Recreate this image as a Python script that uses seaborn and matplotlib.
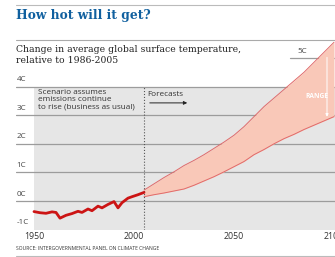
import numpy as np
import matplotlib.pyplot as plt
import seaborn as sns
from matplotlib.lines import Line2D

# observed temperature change (C, relative to 1986-2005)
obs_years = [1950, 1953, 1956, 1959, 1961, 1963, 1966, 1969, 1972, 1974,
             1977, 1979, 1982, 1984, 1987, 1990, 1992, 1994, 1997, 1999,
             2002, 2005]
obs_temp = [-0.37, -0.41, -0.43, -0.38, -0.40, -0.60, -0.50, -0.44, -0.36, -0.40,
            -0.28, -0.34, -0.18, -0.24, -0.12, -0.02, -0.24, -0.06, 0.10, 0.15,
            0.22, 0.30]

# business-as-usual forecast range
fc_years = [2005, 2010, 2015, 2020, 2025, 2030, 2035, 2040, 2045, 2050,
            2055, 2060, 2065, 2070, 2075, 2080, 2085, 2090, 2095, 2100]
fc_upper = [0.38, 0.60, 0.82, 1.02, 1.24, 1.42, 1.62, 1.84, 2.06, 2.30,
            2.60, 2.95, 3.30, 3.60, 3.90, 4.20, 4.50, 4.85, 5.20, 5.55]
fc_lower = [0.15, 0.22, 0.28, 0.35, 0.42, 0.55, 0.70, 0.85, 1.02, 1.20,
            1.38, 1.62, 1.80, 2.00, 2.18, 2.33, 2.50, 2.65, 2.80, 2.95]

y_levels = [-1, 0, 1, 2, 3, 4]
x_labels = [1950, 2000, 2050, 2100]

sns.set_style("white")
plt.rcParams['font.family'] = ['Open Sans', 'DejaVu Sans']

fig = plt.figure(figsize=(3.35, 2.57), dpi=100)
ax = fig.add_axes([16 / 335, 1 - 229.6 / 257, 1 - 16 / 335, 6.6 * 28.6 / 257])
ax.set_xlim(1941, 2100.5)
ax.set_ylim(-1, 5.6)

# grey panel behind the chart
ax.fill_between([1950, 2101], -1, 4, color='#e6e6e6', lw=0, zorder=0)

# gridlines and y labels
for y in y_levels[1:]:
    ax.axhline(y, color='#9c9c9c', lw=0.9, zorder=1)
for y in y_levels:
    ax.text(1941.3, y + 0.12, f"{y}C", ha='left', va='bottom', fontsize=5.8,
            color='#444444', zorder=5)
ax.plot([2078, 2101], [5, 5], color='#9c9c9c', lw=0.9, zorder=1)
ax.text(2081.5, 5.1, "5C", ha='left', va='bottom', fontsize=5.8, color='#444444')

# forecast range
ax.fill_between(fc_years, fc_lower, fc_upper, color='#f9c8b8', lw=0, zorder=2)
sns.lineplot(x=fc_years, y=fc_upper, ax=ax, color='#e06a6a', lw=0.7, zorder=3)
sns.lineplot(x=fc_years, y=fc_lower, ax=ax, color='#e06a6a', lw=0.7, zorder=3)

# observed
sns.lineplot(x=obs_years, y=obs_temp, ax=ax, color='#cc1414', lw=2.0, zorder=4)

# forecast divider
ax.vlines(2005, -1, 4, colors='#555555', linestyles=':', lw=0.8, zorder=3)

ax.text(1952, 3.9, "Scenario assumes\nemissions continue\nto rise (business as usual)",
        ha='left', va='top', fontsize=5.9, color='#333333', linespacing=1.0, zorder=5)
ax.text(2006.5, 3.72, "Forecasts", ha='left', va='center', fontsize=5.9, color='#333333')
ax.annotate('', xy=(2028, 3.43), xytext=(2006.5, 3.43),
            arrowprops=dict(arrowstyle='-|>', color='#222222', lw=0.7,
                            mutation_scale=5))

# range marker
rx = 2096.5
ax.annotate('', xy=(rx, np.interp(rx, fc_years, fc_lower)),
            xytext=(rx, 5.12),
            arrowprops=dict(arrowstyle='-|>', color='white', lw=0.7,
                            mutation_scale=4))
ax.text(2091.5, 3.64, "RANGE", ha='center', va='center', fontsize=4.8,
        color='white', fontweight='bold', zorder=6)

# axes styling
for s in ax.spines.values():
    s.set_visible(False)
ax.set_yticks([])
ax.set_xticks(x_labels)
ax.set_xticks(np.arange(1950, 2101, 10), minor=True)
ax.tick_params(axis='x', which='both', direction='in', length=3, width=0.6,
               color='#666666', pad=2, labelsize=6.3, labelcolor='#333333')
ax.set_xlabel('')
ax.set_ylabel('')

# header / footer
fig.add_artist(Line2D([16 / 335, 1], [1 - 5 / 257] * 2, color='#bbbbbb', lw=0.8))
fig.add_artist(Line2D([16 / 335, 1], [1 - 40 / 257] * 2, color='#aaaaaa', lw=0.8))
fig.add_artist(Line2D([16 / 335, 1], [1 - 255.5 / 257] * 2, color='#bbbbbb', lw=0.8))
fig.text(16 / 335, 1 - 15.5 / 257, "How hot will it get?", ha='left', va='center',
         fontsize=8.8, fontweight='bold', color='#10609f', family='DejaVu Serif')
fig.text(16 / 335, 1 - 55 / 257, "Change in average global surface temperature,\nrelative to 1986-2005",
         ha='left', va='center', fontsize=6.7, color='#222222', family='DejaVu Serif',
         linespacing=1.15)
fig.text(16 / 335, 1 - 249 / 257, "SOURCE: INTERGOVERNMENTAL PANEL ON CLIMATE CHANGE",
         ha='left', va='center', fontsize=3.6, color='#333333')

fig.savefig('out.png', dpi=100)
